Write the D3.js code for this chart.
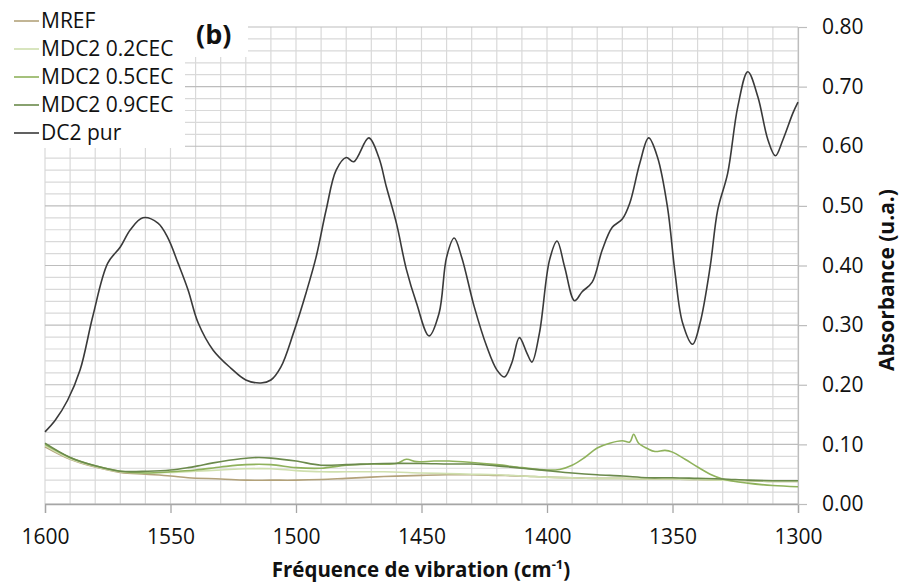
<!DOCTYPE html>
<html>
<head>
<meta charset="utf-8">
<script src="https://cdn.jsdelivr.net/npm/d3@7"></script>
<style>
  html, body { margin: 0; padding: 0; background: #fff; }
  svg { display: block; font-family: "Open Sans", "Noto Sans", sans-serif; }
</style>
</head>
<body>
<svg id="chart" width="901" height="583"></svg>
<script>
// ---- Data ----
const seriesNames = ["MREF", "MDC2 0.2CEC", "MDC2 0.5CEC", "MDC2 0.9CEC", "DC2 pur"];
const seriesColors = ["#b3a27a", "#cfdfae", "#8fb25c", "#6b8a4c", "#3a3a3a"];

const wnMREF  = [1600,1590,1580,1570,1560,1550,1543,1530,1520,1510,1500,1490,1480,1465,1450,1440,1430,1420,1410,1400,1390,1380,1370,1360,1350,1340,1330,1320,1310,1300];
const valMREF = [0.096,0.075,0.062,0.053,0.050,0.047,0.044,0.042,0.040,0.040,0.040,0.041,0.043,0.046,0.048,0.049,0.049,0.048,0.047,0.045,0.044,0.043,0.043,0.042,0.042,0.041,0.040,0.039,0.038,0.038];

const wn02  = [1600,1590,1580,1570,1560,1550,1540,1530,1520,1510,1500,1490,1480,1465,1450,1440,1430,1420,1410,1400,1390,1380,1370,1360,1350,1340,1330,1320,1310,1300];
const val02 = [0.098,0.076,0.063,0.054,0.052,0.053,0.055,0.057,0.059,0.059,0.056,0.054,0.054,0.054,0.052,0.051,0.050,0.049,0.047,0.045,0.044,0.043,0.043,0.042,0.042,0.041,0.040,0.039,0.038,0.038];

const wn05  = [1600,1590,1580,1570,1560,1550,1540,1530,1520,1510,1500,1490,1480,1470,1460,1456,1452,1445,1439,1431,1420,1410,1400,1395,1390,1385,1380,1375,1370,1367,1365.5,1363.5,1360,1357,1353,1350,1345,1340,1335,1330,1320,1310,1300];
const val05 = [0.100,0.078,0.064,0.055,0.052,0.054,0.057,0.062,0.066,0.066,0.061,0.060,0.065,0.067,0.068,0.075,0.071,0.072,0.072,0.070,0.066,0.061,0.057,0.058,0.065,0.078,0.094,0.102,0.106,0.104,0.117,0.102,0.093,0.088,0.090,0.087,0.075,0.062,0.050,0.042,0.035,0.031,0.029];

const wn09  = [1600,1590,1580,1570,1559,1550,1543,1539,1533,1522,1515,1510,1500,1490,1480,1465,1450,1439,1430,1420,1410,1400,1390,1380,1370,1360,1350,1340,1330,1320,1310,1300];
const val09 = [0.102,0.078,0.064,0.055,0.055,0.057,0.061,0.064,0.069,0.076,0.078,0.077,0.072,0.065,0.066,0.068,0.068,0.067,0.067,0.064,0.060,0.056,0.052,0.049,0.047,0.044,0.044,0.043,0.042,0.040,0.039,0.039];

const wnDC2  = [1600,1596,1591,1586,1581,1575,1570,1566,1561,1555,1551,1547,1543,1539,1533,1526,1520,1514,1510,1506,1501,1496,1492,1488,1484,1480,1477,1471,1467,1464,1460,1456,1452,1447,1443,1440,1437,1434,1429,1424,1420,1417,1414,1411,1408,1406,1403,1399,1396,1393,1389,1386,1382,1378,1374,1370,1367,1363,1359.5,1356,1352,1349,1346,1342,1339,1335,1332,1328,1324,1320,1316,1312,1309,1306,1302,1300];
const valDC2 = [0.121,0.140,0.174,0.225,0.314,0.404,0.431,0.460,0.480,0.471,0.446,0.404,0.359,0.304,0.258,0.228,0.208,0.203,0.208,0.230,0.287,0.354,0.414,0.493,0.560,0.581,0.574,0.614,0.581,0.532,0.471,0.393,0.337,0.282,0.320,0.414,0.446,0.414,0.331,0.264,0.225,0.213,0.237,0.279,0.253,0.238,0.287,0.409,0.441,0.398,0.341,0.356,0.372,0.426,0.464,0.478,0.505,0.572,0.614,0.582,0.498,0.388,0.304,0.268,0.304,0.398,0.493,0.555,0.666,0.725,0.683,0.611,0.584,0.611,0.656,0.674];

const xTicks = [1600,1550,1500,1450,1400,1350,1300];
const yTicks = [0,0.1,0.2,0.3,0.4,0.5,0.6,0.7,0.8];
const xTitle = "Fréquence de vibration (cm";
const xTitleSup = "-1";
const yTitle = "Absorbance (u.a.)";
const panelLabel = "(b)";

// ---- Layout ----
const svg = d3.select("#chart");
const plot = { left: 45, right: 798, top: 27, bottom: 504 };
const x = d3.scaleLinear().domain([1600, 1300]).range([plot.left, plot.right]);
const y = d3.scaleLinear().domain([0, 0.8]).range([plot.bottom, plot.top]);

// Gridlines
const g = svg.append("g");
const vGrid = d3.range(1600, 1299, -10);
g.selectAll(".vg").data(vGrid).enter().append("line")
  .attr("x1", d => x(d)).attr("x2", d => x(d))
  .attr("y1", plot.top).attr("y2", plot.bottom)
  .attr("stroke", "#d9d9d9").attr("stroke-width", 1.2);
const hGrid = d3.range(0, 41).map(i => i * 0.02);
g.selectAll(".hg").data(hGrid).enter().append("line")
  .attr("x1", plot.left).attr("x2", plot.right)
  .attr("y1", d => y(d)).attr("y2", d => y(d))
  .attr("stroke", (d, i) => i % 5 === 0 ? "#bdbdbd" : "#d9d9d9")
  .attr("stroke-width", 1.2);

// Bottom axis
const xAxis = d3.axisBottom(x).tickValues(xTicks).tickSize(9).tickFormat(d3.format("d"));
const gx = svg.append("g").attr("transform", `translate(0,${plot.bottom})`).call(xAxis);
gx.select(".domain").attr("stroke", "#a6a6a6").attr("stroke-width", 1.3);
gx.selectAll(".tick line").attr("stroke", "#a6a6a6").attr("stroke-width", 1.3);
gx.selectAll(".tick text").attr("font-size", 21).attr("fill", "#111")
  .attr("font-family", "Open Sans").attr("dy", null).attr("y", 40);

// Right axis
const yAxis = d3.axisRight(y).tickValues(yTicks).tickSize(9).tickFormat(d3.format(".2f"));
const gy = svg.append("g").attr("transform", `translate(${plot.right},0)`).call(yAxis);
gy.select(".domain").attr("stroke", "#bdbdbd").attr("stroke-width", 1.2);
gy.selectAll(".tick line").attr("stroke", "#bdbdbd").attr("stroke-width", 1.2);
gy.selectAll(".tick text").attr("font-size", 21).attr("fill", "#111")
  .attr("font-family", "Open Sans").attr("x", 24);

// Legend and label backgrounds (white boxes)
svg.append("rect").attr("x", 0).attr("y", 0).attr("width", 185).attr("height", 148).attr("fill", "#fff");
svg.append("rect").attr("x", 185).attr("y", 0).attr("width", 63).attr("height", 57).attr("fill", "#fff");

// Curves
const line = d3.line().x(d => x(d[0])).y(d => y(d[1])).curve(d3.curveCatmullRom.alpha(0.5));
const seriesData = [
  d3.zip(wnMREF, valMREF),
  d3.zip(wn02, val02),
  d3.zip(wn05, val05),
  d3.zip(wn09, val09),
  d3.zip(wnDC2, valDC2)
];
svg.append("g").selectAll("path").data(seriesData).enter().append("path")
  .attr("d", line)
  .attr("fill", "none")
  .attr("stroke", (d, i) => seriesColors[i])
  .attr("stroke-width", 1.6)
  .attr("stroke-linejoin", "round");

// Legend
const leg = svg.append("g");
const legRows = leg.selectAll("g").data(seriesNames).enter().append("g")
  .attr("transform", (d, i) => `translate(0,${21 + i * 28})`);
legRows.append("line").attr("x1", 14).attr("x2", 39).attr("y1", 0).attr("y2", 0)
  .attr("stroke", (d, i) => seriesColors[i]).attr("stroke-width", 1.6);
legRows.append("text").attr("x", 41).attr("y", 0).attr("dy", "0.35em")
  .attr("font-size", 21).attr("fill", "#111").text(d => d);

// Panel label
svg.append("text").attr("x", 196).attr("y", 35).attr("dy", "0.35em")
  .attr("font-size", 27).attr("font-weight", "bold").attr("fill", "#111").text(panelLabel);

// Axis titles
const xt = svg.append("text").attr("x", 421).attr("y", 577)
  .attr("text-anchor", "middle").attr("font-size", 20.5).attr("font-weight", "bold").attr("fill", "#111");
xt.append("tspan").text(xTitle);
xt.append("tspan").attr("font-size", 13).attr("dy", -8).text(xTitleSup);
xt.append("tspan").attr("dy", 8).text(")");

svg.append("text")
  .attr("transform", "translate(894,280) rotate(-90)")
  .attr("text-anchor", "middle").attr("font-size", 21).attr("font-weight", "bold").attr("fill", "#111")
  .text(yTitle);
</script>
</body>
</html>
